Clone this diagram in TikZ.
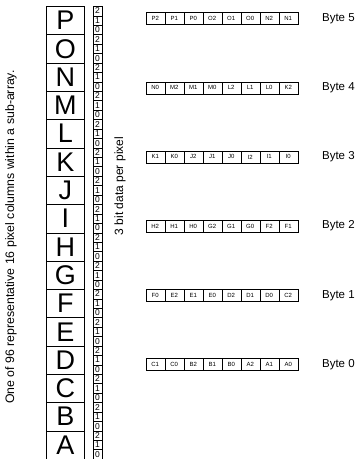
\documentclass[tikz,border=0pt]{standalone}
\usepackage{fontspec}
\setmainfont{Liberation Sans}
\usetikzlibrary{positioning}
\tikzset{
  pixbox/.style={draw,inner sep=0pt,minimum width=37.3pt,minimum height=28.3pt,font=\fontsize{27}{27}\selectfont},
  bitbox/.style={draw,inner sep=0pt,minimum width=9.5pt,minimum height=9.43pt,font=\fontsize{8.5}{8.5}\selectfont},
  cellbox/.style={draw,inner sep=0pt,minimum width=19pt,minimum height=12pt,font=\fontsize{6}{6}\selectfont},
  bytelabel/.style={inner sep=0pt,anchor=west,font=\fontsize{11.5}{11.5}\selectfont}
}
\begin{document}
\begin{tikzpicture}[x=1pt,y=-1pt]
\useasboundingbox (0,0) rectangle (359,459);
% pixel column with its 3 bits
\foreach \l [count=\i from 0] in {P,O,N,M,L,K,J,I,H,G,F,E,D,C,B,A}{
  \node[pixbox] (pix\l) at (65.3,{6.3+28.3*\i+14.15}) {\l};
  \foreach \b [count=\j from 0] in {2,1,0}{\node[bitbox] (bit\l\b) at (97.6,{6.3+28.3*\i+9.43*\j+4.72}) {\b};}
}
% bytes
\foreach \n/\cells [count=\k from 0] in {5/{P2,P1,P0,O2,O1,O0,N2,N1},4/{N0,M2,M1,M0,L2,L1,L0,K2},3/{K1,K0,J2,J1,J0,I2,I1,I0},2/{H2,H1,H0,G2,G1,G0,F2,F1},1/{F0,E2,E1,E0,D2,D1,D0,C2},0/{C1,C0,B2,B1,B0,A2,A1,A0}}{
  \foreach \c [count=\m from 0] in \cells {\node[cellbox] (byte\n-\m) at ({155.2+19*\m},{18.5+69.2*\k}) {\c};}
  \node[bytelabel,right=24pt of byte\n-7] (label\n) {Byte \n};
}
\node[rotate=90,inner sep=0pt,font=\fontsize{12.3}{12.3}\selectfont] (caption) at (11,237) {One of 96 representative 16 pixel columns within a sub-array.};
\node[rotate=90,inner sep=0pt,font=\fontsize{12}{12}\selectfont] (bitnote) at (120,186) {3 bit data per pixel};
\end{tikzpicture}
\end{document}
